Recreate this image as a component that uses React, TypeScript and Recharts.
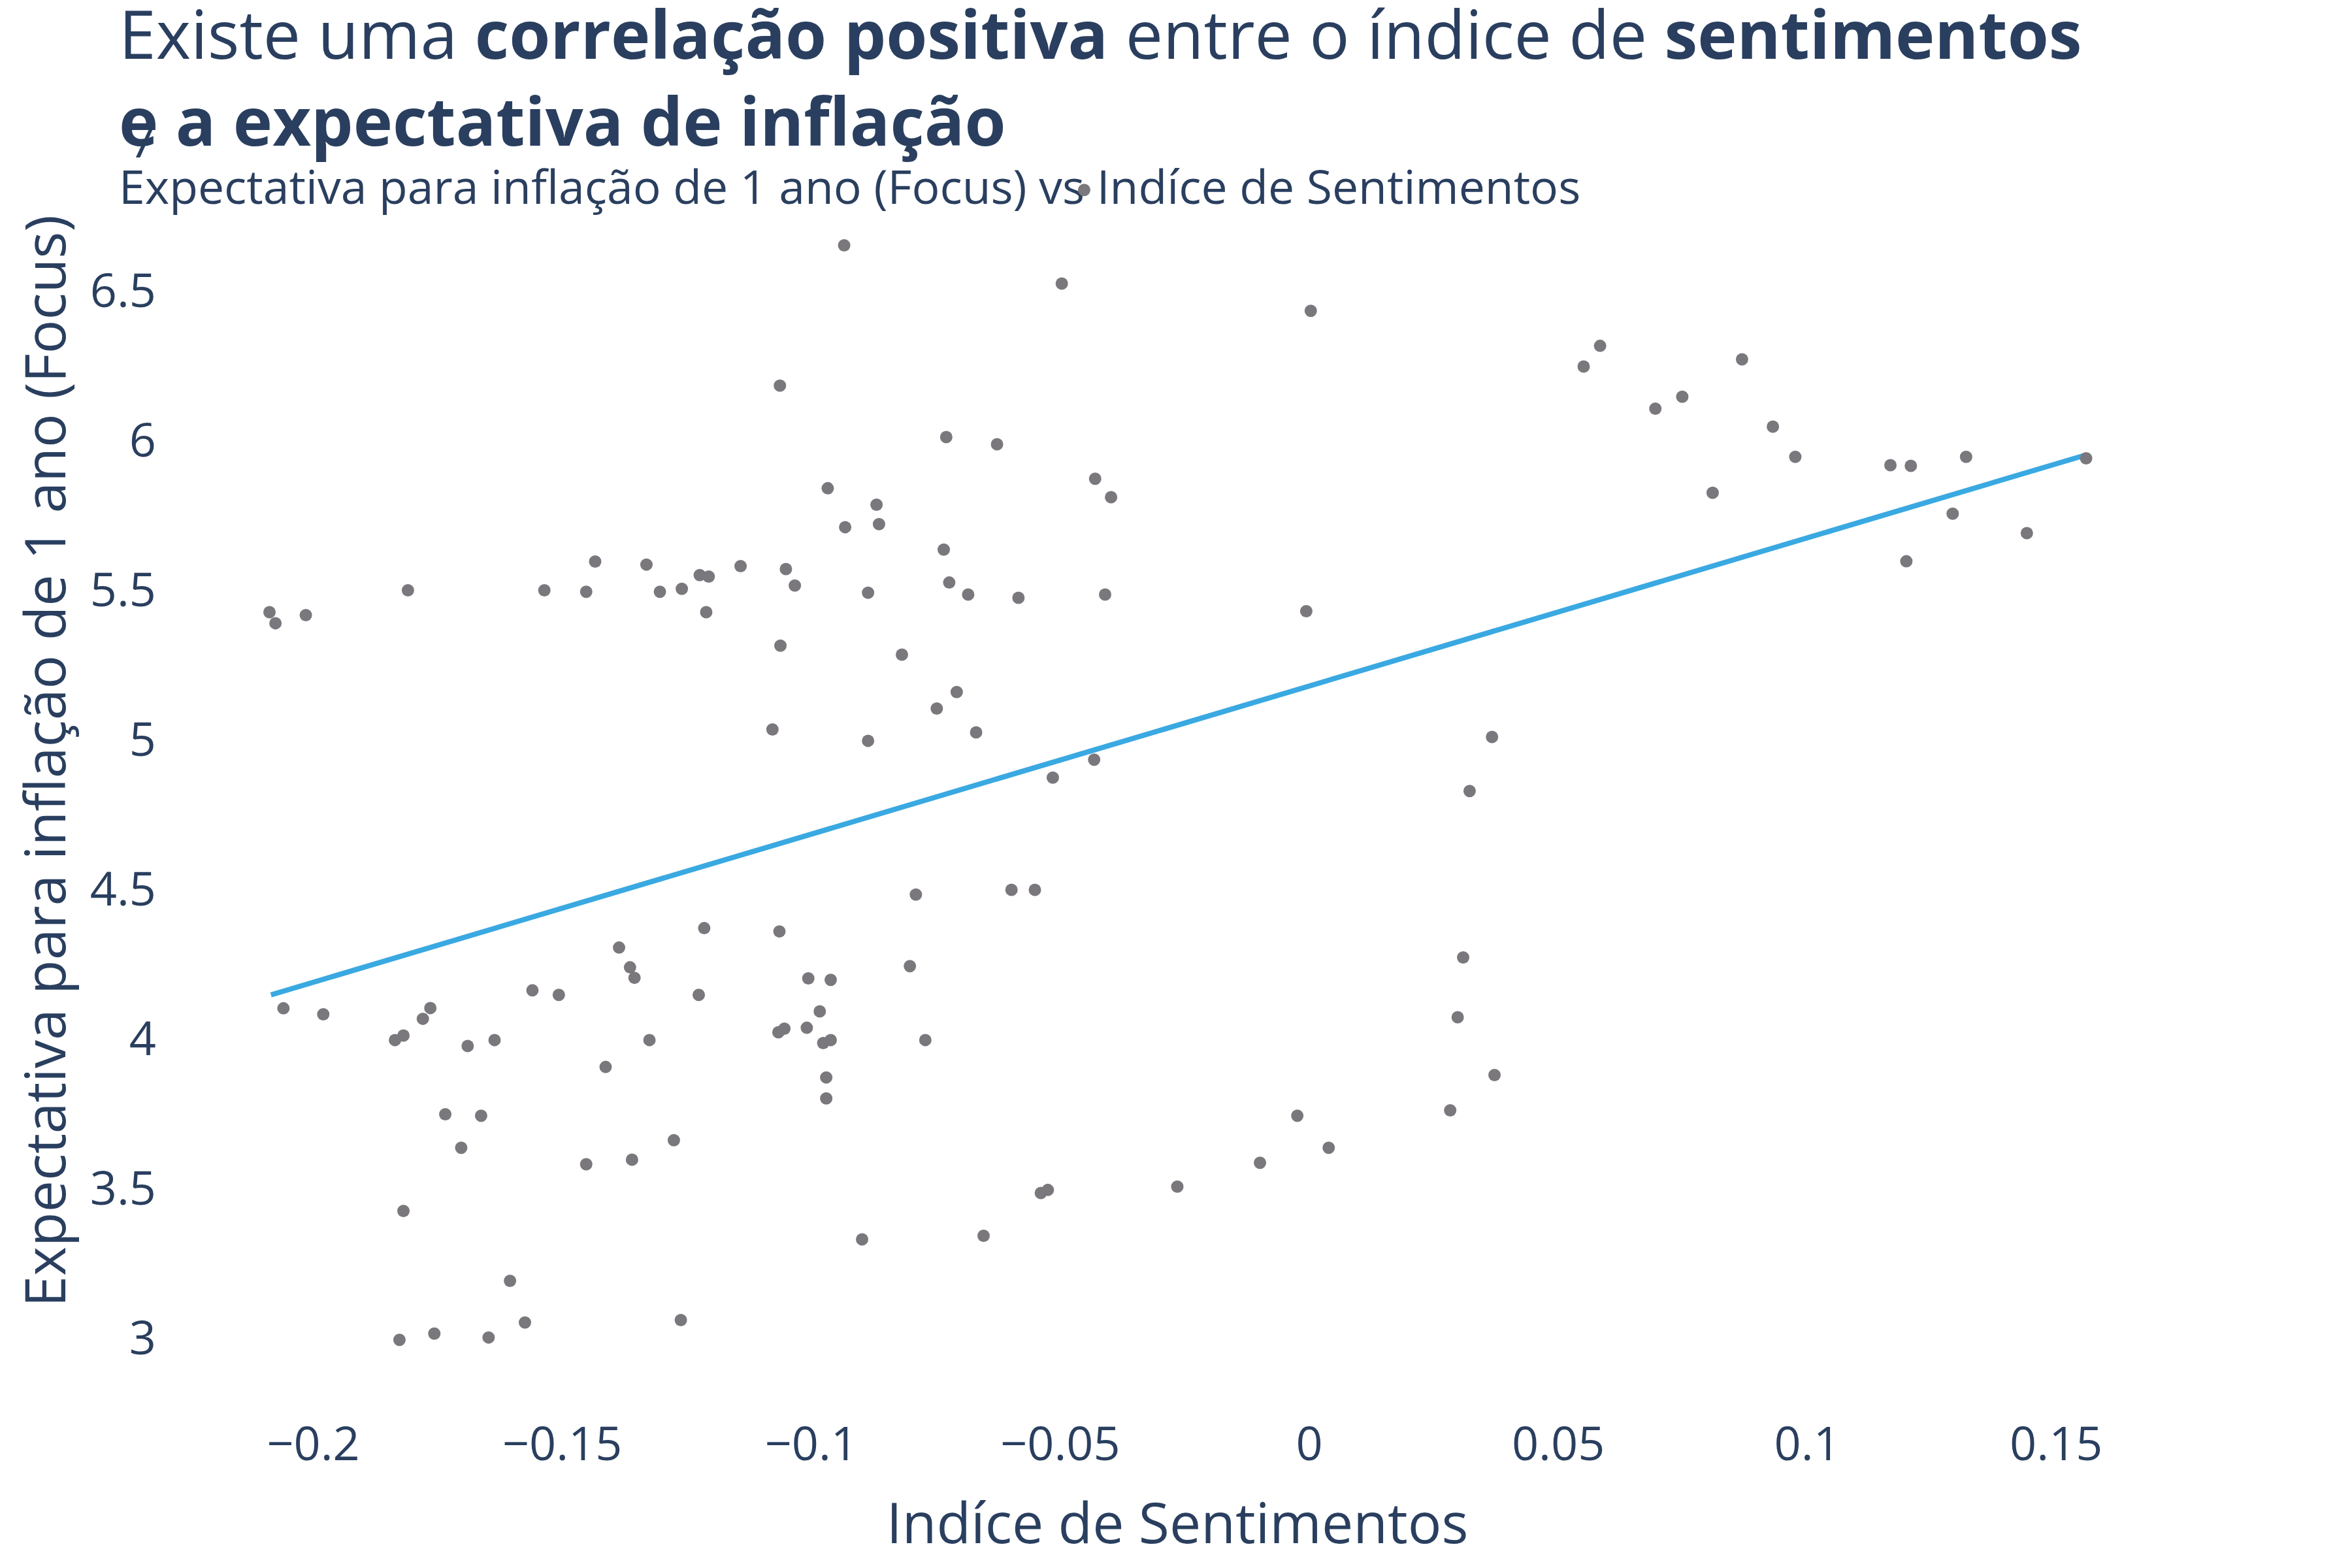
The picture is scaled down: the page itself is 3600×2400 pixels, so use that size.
import React from 'react';
import { ScatterChart, Scatter, XAxis, YAxis } from 'recharts';

// Índice de Sentimentos (x) and Focus 1-year inflation expectation (y)
const sentimento = [
  -0.0452, -0.0934, -0.0497, 0.0003, -0.1063, 0.0551, 0.0584, 0.0869, 0.0695, 0.0749,
  0.0931, 0.0976, 0.1167, 0.1208, 0.1319, 0.156, 0.081, 0.1292, 0.1441, 0.1199,
  -0.0729, -0.0627, -0.0967, -0.043, -0.0398, -0.0869, -0.0932, -0.0864, -0.0734, -0.1434,
  -0.1331, -0.1142, -0.1051, -0.1224, -0.1206, -0.1033, -0.0723, -0.0685, -0.0886, -0.0584,
  -0.041, -0.181, -0.1536, -0.1452, -0.1304, -0.126, -0.1211, -0.2088, -0.2076, -0.2015,
  -0.0006, -0.1062, -0.0818, -0.0708, -0.0748, -0.1078, -0.0669, -0.0886, 0.0367, -0.0432,
  -0.0515, 0.0322, -0.079, -0.0598, -0.0551, -0.1215, -0.1064, -0.1386, 0.0309, -0.1364,
  -0.0802, -0.1355, -0.1006, -0.0961, -0.156, -0.1507, -0.1226, -0.206, -0.1765, -0.198,
  -0.178, 0.0298, -0.1009, -0.1054, -0.1066, -0.1836, -0.1819, -0.1636, -0.1325, -0.0771,
  -0.0976, -0.0961, -0.169, -0.1413, -0.097, 0.0372, -0.097, -0.1735, -0.1663, -0.0024,
  0.0283, -0.1703, -0.1276, 0.0039, -0.136, -0.1452, -0.0099, -0.0265, -0.0539, -0.0525,
  -0.1819, -0.0898, -0.0654, -0.1605, -0.1575, -0.1262, -0.1827, -0.1757, -0.1648, -0.0983,
];

const focus = [
  6.835, 6.65, 6.522, 6.431, 6.181, 6.245, 6.314, 6.269, 6.104, 6.144,
  6.044, 5.943, 5.915, 5.913, 5.943, 5.938, 5.823, 5.753, 5.688, 5.594,
  6.009, 5.985, 5.838, 5.87, 5.808, 5.783, 5.708, 5.718, 5.633, 5.593,
  5.583, 5.578, 5.568, 5.548, 5.543, 5.513, 5.523, 5.483, 5.489, 5.472,
  5.483, 5.497, 5.497, 5.492, 5.492, 5.502, 5.424, 5.424, 5.387, 5.414,
  5.427, 5.312, 5.282, 5.157, 5.102, 5.032, 5.022, 4.994, 5.007, 4.931,
  4.871, 4.826, 4.48, 4.496, 4.496, 4.368, 4.357, 4.303, 4.27, 4.237,
  4.241, 4.202, 4.2, 4.195, 4.16, 4.145, 4.145, 4.1, 4.101, 4.08,
  4.065, 4.07, 4.035, 4.032, 4.02, 3.994, 4.009, 3.994, 3.994, 3.994,
  3.984, 3.994, 3.974, 3.904, 3.869, 3.877, 3.799, 3.746, 3.741, 3.741,
  3.759, 3.634, 3.659, 3.634, 3.594, 3.579, 3.584, 3.504, 3.483, 3.493,
  3.423, 3.328, 3.34, 3.189, 3.05, 3.058, 2.992, 3.013, 3.0, 4.09,
];

// OLS trendline end points
const trendX = [-0.2085, 0.1557];
const trendY = [4.145, 5.948];

const xTicks = [-0.2, -0.15, -0.1, -0.05, 0, 0.05, 0.1, 0.15];
const yTicks = [3, 3.5, 4, 4.5, 5, 5.5, 6, 6.5, 7];

const points = sentimento.map((x, i) => ({ x, y: focus[i] }));
const trend = trendX.map((x, i) => ({ x, y: trendY[i] }));

const TEXT = '#2a3f5f';
const FONT = '"Open Sans", sans-serif';

const fmt = (v: number) => (v < 0 ? '\u2212' + Math.abs(v) : String(v));

const Dot = (props: any) => <circle cx={props.cx} cy={props.cy} r={9.5} fill="#7a787d" />;

export default function App() {
  return (
    <div style={{ position: 'relative', width: 3600, height: 2400, background: '#fff', fontFamily: FONT }}>
      <style>{'body{margin:0}'}</style>
      <svg width={3600} height={2400} style={{ position: 'absolute', left: 0, top: 0 }}>
        <g fill={TEXT} fontFamily={FONT}>
          <text x={182} y={90} fontSize={102}>
            Existe uma <tspan fontWeight={700}>correlação positiva</tspan> entre o índice de{' '}
            <tspan fontWeight={700}>sentimentos</tspan>
          </text>
          <text x={182} y={223} fontSize={102} fontWeight={700}>
            e a expectativa de inflação
          </text>
          <text x={182} y={312} fontSize={71.5}>
            Expectativa para inflação de 1 ano (Focus) vs Indíce de Sentimentos
          </text>
          <text x={1802} y={2362} fontSize={86} textAnchor="middle">
            Indíce de Sentimentos
          </text>
          <text x={100} y={1165} fontSize={86} textAnchor="middle" transform="rotate(-90 100 1165)">
            Expectativa para inflação de 1 ano (Focus)
          </text>
        </g>
      </svg>
      <div style={{ position: 'absolute', left: 0, top: 0 }}>
        <ScatterChart width={3600} height={2400} margin={{ top: 206, right: 285, bottom: 175, left: 89 }}>
          <XAxis
            type="number"
            dataKey="x"
            domain={[-0.225, 0.172]}
            ticks={xTicks}
            tickFormatter={fmt}
            axisLine={false}
            tickLine={false}
            tickSize={0}
            tickMargin={59}
            height={100}
            tick={{ fill: TEXT, fontSize: 72, fontFamily: FONT }}
            allowDataOverflow
          />
          <YAxis
            type="number"
            dataKey="y"
            domain={[2.83, 7.02]}
            ticks={yTicks}
            axisLine={false}
            tickLine={false}
            tickSize={0}
            tickMargin={50}
            width={200}
            tick={{ fill: TEXT, fontSize: 72, fontFamily: FONT }}
            allowDataOverflow
          />
          <Scatter
            data={trend}
            line={{ stroke: '#3aa9e1', strokeWidth: 8 }}
            shape={() => <g />}
            isAnimationActive={false}
          />
          <Scatter data={points} shape={Dot} isAnimationActive={false} />
        </ScatterChart>
      </div>
    </div>
  );
}
